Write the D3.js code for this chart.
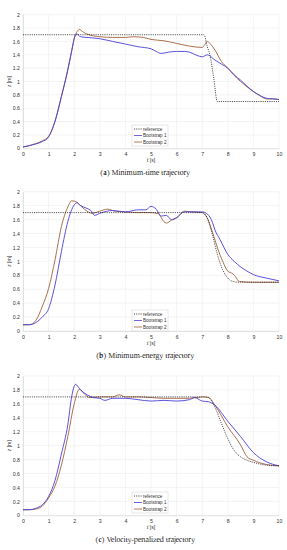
<!DOCTYPE html>
<html>
<head>
<meta charset="utf-8">
<script src="https://cdn.jsdelivr.net/npm/d3@7"></script>
<style>
  body { margin: 0; background: #fff; }
  svg { display: block; }
</style>
</head>
<body>
<div id="chart"></div>
<script>
// panel (a) minimum-time
const refA = [[0,1.7],[7.07,1.7],[7.2,1.52],[7.3,1.4],[7.45,1.05],[7.59,0.7],[10,0.7]]
const boot1A = [[0,0.02],[0.25,0.04],[0.5,0.065],[0.75,0.1],[1,0.17],[1.25,0.4],[1.5,0.77],[1.75,1.17],[1.9,1.45],[2.03,1.68],[2.1,1.71],[2.25,1.67],[2.5,1.66],[3,1.64],[3.5,1.6],[4,1.56],[4.5,1.52],[5,1.49],[5.2,1.45],[5.4,1.42],[5.7,1.44],[6,1.45],[6.3,1.45],[6.5,1.44],[6.8,1.39],[7,1.37],[7.2,1.4],[7.5,1.32],[7.8,1.25],[8,1.2],[8.25,1.1],[8.5,1.02],[8.75,0.93],[9,0.85],[9.25,0.79],[9.5,0.75],[9.75,0.74],[10,0.73]]
const boot2A = [[0,0.02],[0.25,0.04],[0.5,0.07],[0.75,0.11],[1,0.18],[1.25,0.41],[1.5,0.78],[1.75,1.18],[1.9,1.46],[2.03,1.68],[2.12,1.75],[2.2,1.78],[2.35,1.74],[2.5,1.71],[3,1.67],[3.5,1.66],[4,1.66],[4.3,1.67],[4.7,1.66],[5,1.63],[5.5,1.61],[6,1.57],[6.5,1.53],[7,1.51],[7.1,1.55],[7.2,1.6],[7.3,1.57],[7.5,1.47],[7.75,1.3],[8,1.2],[8.25,1.09],[8.5,1.0],[8.75,0.92],[9,0.85],[9.25,0.79],[9.5,0.74],[9.75,0.74],[10,0.73]]

// panel (b) minimum-energy
const refB = [[0,1.7],[7.0,1.7],[7.2,1.62],[7.4,1.38],[7.6,1.09],[7.8,0.88],[8.0,0.76],[8.2,0.71],[8.5,0.7],[10,0.7]]
const boot1B = [[0,0.09],[0.25,0.09],[0.5,0.12],[0.75,0.2],[1,0.32],[1.25,0.66],[1.5,1.14],[1.75,1.57],[2,1.81],[2.1,1.84],[2.25,1.8],[2.5,1.76],[2.65,1.73],[2.8,1.66],[3,1.69],[3.5,1.73],[4,1.71],[4.5,1.74],[4.8,1.74],[5,1.79],[5.2,1.75],[5.4,1.65],[5.6,1.66],[5.8,1.6],[6,1.63],[6.3,1.71],[6.5,1.71],[7,1.71],[7.2,1.68],[7.4,1.56],[7.5,1.45],[7.7,1.31],[8,1.1],[8.25,1.0],[8.5,0.92],[8.75,0.86],[9,0.81],[9.5,0.76],[10,0.72]]
const boot2B = [[0,0.09],[0.25,0.09],[0.5,0.15],[0.75,0.35],[1,0.61],[1.25,1.02],[1.5,1.5],[1.75,1.78],[1.9,1.87],[2.1,1.85],[2.3,1.78],[2.5,1.72],[2.7,1.69],[3,1.72],[3.3,1.75],[3.6,1.72],[4,1.71],[4.5,1.7],[5,1.7],[5.3,1.68],[5.5,1.57],[5.6,1.55],[5.8,1.59],[6,1.62],[6.3,1.72],[6.6,1.71],[7,1.7],[7.2,1.62],[7.4,1.42],[7.6,1.19],[7.8,1.0],[8,0.86],[8.2,0.82],[8.3,0.78],[8.45,0.71],[9,0.7],[9.5,0.7],[10,0.7]]

// panel (c) velocity-penalized
const refC = [[0,1.7],[7.2,1.7],[7.5,1.55],[7.75,1.32],[8,1.1],[8.25,0.93],[8.5,0.84],[8.75,0.79],[9,0.76],[9.5,0.72],[10,0.71]]
const boot1C = [[0,0.08],[0.25,0.08],[0.5,0.1],[0.75,0.15],[1,0.27],[1.25,0.5],[1.5,0.88],[1.75,1.3],[1.9,1.7],[2.05,1.88],[2.25,1.8],[2.5,1.73],[2.75,1.69],[3,1.68],[3.2,1.65],[3.5,1.68],[4,1.68],[4.5,1.66],[5,1.64],[5.5,1.65],[6,1.64],[6.5,1.66],[6.7,1.69],[7,1.64],[7.25,1.63],[7.5,1.58],[8,1.35],[8.5,1.13],[9,0.9],[9.5,0.77],[10,0.71]]
const boot2C = [[0,0.08],[0.25,0.08],[0.5,0.09],[0.75,0.13],[1,0.25],[1.25,0.42],[1.5,0.72],[1.75,1.13],[2,1.6],[2.2,1.81],[2.4,1.74],[2.6,1.69],[3,1.7],[3.5,1.7],[3.75,1.73],[4,1.7],[4.5,1.7],[5,1.69],[5.5,1.68],[6,1.68],[6.5,1.68],[7,1.7],[7.25,1.69],[7.5,1.58],[8,1.27],[8.5,1.01],[8.75,0.84],[9,0.79],[9.5,0.73],[10,0.71]]

const xTicks = [0,1,2,3,4,5,6,7,8,9,10]
const yTicks = [0,0.2,0.4,0.6,0.8,1,1.2,1.4,1.6,1.8,2]
const legendNames = ["reference", "Bootstrap 1", "Bootstrap 2"]
const captions = [
  ["(a)", " Minimum-time trajectory"],
  ["(b)", " Minimum-energy trajectory"],
  ["(c)", " Velocity-penalized trajectory"]
]

const BLUE = "#4a3fd8", BROWN = "#a1603c"

const panels = [
  {top: 14.7, bottom: 148.3, ref: refA, b1: boot1A, b2: boot2A, legTop: 125, cap: captions[0]},
  {top: 191.7, bottom: 331, ref: refB, b1: boot1B, b2: boot2B, legTop: 310, cap: captions[1]},
  {top: 376, bottom: 515.3, ref: refC, b1: boot1C, b2: boot2C, legTop: 492, cap: captions[2]}
]

const svg = d3.select("#chart").append("svg")
  .attr("width", 287).attr("height", 550)

const x = d3.scaleLinear().domain([0, 10]).range([23, 279])

panels.forEach(function(p) {
  const y = d3.scaleLinear().domain([0, 2]).range([p.bottom, p.top])
  const g = svg.append("g")

  // grid
  g.append("g").selectAll("line").data(xTicks).enter().append("line")
    .attr("x1", d => x(d)).attr("x2", d => x(d))
    .attr("y1", p.top).attr("y2", p.bottom)
    .style("stroke", "#ececec").style("stroke-width", 0.6)
  g.append("g").selectAll("line").data(yTicks).enter().append("line")
    .attr("x1", x(0)).attr("x2", x(10))
    .attr("y1", d => y(d)).attr("y2", d => y(d))
    .style("stroke", "#ececec").style("stroke-width", 0.6)

  // axes
  const xa = g.append("g").attr("transform", "translate(0," + p.bottom + ")")
    .call(d3.axisBottom(x).tickValues(xTicks).tickSize(0).tickPadding(4).tickFormat(d3.format("d")))
  const ya = g.append("g").attr("transform", "translate(" + x(0) + ",0)")
    .call(d3.axisLeft(y).tickValues(yTicks).tickSize(0).tickPadding(3).tickFormat(d => String(+d.toFixed(1))))
  ;[xa, ya].forEach(function(a) {
    a.select(".domain").style("stroke", "#d0d0d0").style("stroke-width", 0.6)
    a.selectAll("text").style("font-family", "Liberation Sans, Arial, sans-serif")
      .style("font-size", "5.2px").style("fill", "#333")
  })

  // axis labels
  g.append("text").attr("x", x(5)).attr("y", p.bottom + 13.5)
    .attr("text-anchor", "middle")
    .style("font-family", "Liberation Sans, Arial, sans-serif").style("font-size", "5.2px").style("fill", "#333")
    .html('<tspan font-style="italic" font-family="Liberation Serif, serif" font-size="6px">t</tspan> [s]')
  g.append("text")
    .attr("transform", "translate(11," + y(1) + ") rotate(-90)")
    .attr("text-anchor", "middle")
    .style("font-family", "Liberation Sans, Arial, sans-serif").style("font-size", "5.2px").style("fill", "#333")
    .html('<tspan font-style="italic" font-family="Liberation Serif, serif" font-size="6px">z</tspan> [m]')

  // curves
  const line = d3.line().x(d => x(d[0])).y(d => y(d[1])).curve(d3.curveMonotoneX)
  g.append("path").datum(p.b2).attr("d", line)
    .style("fill", "none").style("stroke", BROWN).style("stroke-width", 0.9)
  g.append("path").datum(p.b1).attr("d", line)
    .style("fill", "none").style("stroke", BLUE).style("stroke-width", 0.9)
  g.append("path").datum(p.ref).attr("d", line)
    .style("fill", "none").style("stroke", "#222").style("stroke-width", 0.8)
    .style("stroke-dasharray", "1.1,1.1")

  // legend
  const lg = g.append("g").attr("transform", "translate(132," + p.legTop + ")")
  lg.append("rect").attr("width", 36).attr("height", 21)
    .style("fill", "#fff").style("stroke", "#cfcfcf").style("stroke-width", 0.5)
  const styles = [["#222", "1.1,1.1"], [BLUE, null], [BROWN, null]]
  legendNames.forEach(function(name, i) {
    const yy = 4 + i * 6.5
    lg.append("line").attr("x1", 2).attr("x2", 10).attr("y1", yy).attr("y2", yy)
      .style("stroke", styles[i][0]).style("stroke-width", 0.8)
      .style("stroke-dasharray", styles[i][1])
    lg.append("text").attr("x", 11).attr("y", yy + 1.6).text(name)
      .style("font-family", "Liberation Sans, Arial, sans-serif").style("font-size", "4.6px").style("fill", "#333")
  })

  // caption
  const cap = g.append("text").attr("x", 145).attr("y", p.bottom + 27)
    .attr("text-anchor", "middle")
    .style("font-family", "TeX Gyre Pagella, Palatino, Liberation Serif, serif").style("font-size", "7px").style("fill", "#111")
  cap.append("tspan").style("font-weight", "bold").text(p.cap[0])
  cap.append("tspan").text(p.cap[1])
})
</script>
</body>
</html>
